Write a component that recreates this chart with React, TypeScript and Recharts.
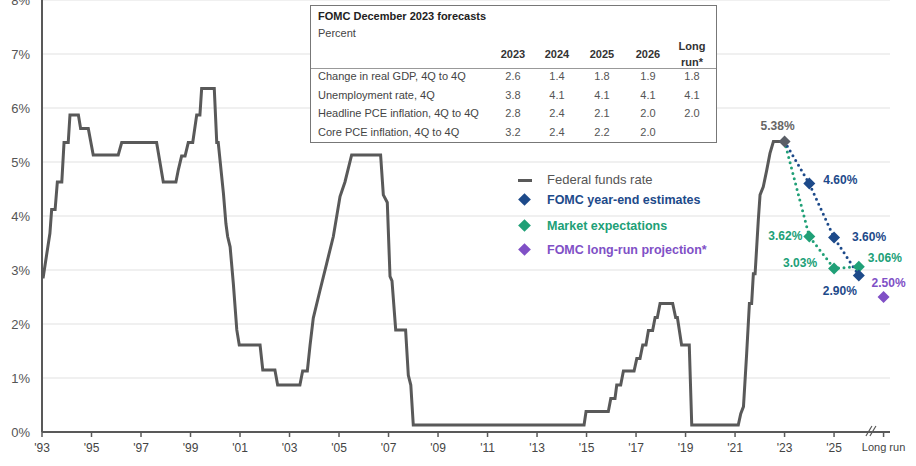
import { ComposedChart, Line, XAxis, YAxis, CartesianGrid, ReferenceDot } from "recharts";

// Federal funds rate, [chart year, percent]
const fedFunds: [number, number][] = [
  [1993.0, 2.87], [1993.05, 2.87], [1993.32, 3.68], [1993.39, 4.12], [1993.53, 4.12],
  [1993.62, 4.63], [1993.8, 4.63], [1993.89, 5.36], [1994.06, 5.36], [1994.13, 5.87],
  [1994.47, 5.87], [1994.56, 5.62], [1994.87, 5.62], [1995.07, 5.13], [1996.08, 5.13],
  [1996.22, 5.36], [1997.63, 5.36], [1997.9, 4.63], [1998.41, 4.63], [1998.51, 4.86],
  [1998.64, 5.11], [1998.78, 5.11], [1998.91, 5.36], [1999.09, 5.36], [1999.25, 5.87],
  [1999.38, 5.87], [1999.45, 6.36], [1999.96, 6.36], [2000.06, 5.36], [2000.12, 5.36],
  [2000.33, 4.42], [2000.43, 3.86], [2000.5, 3.62], [2000.6, 3.43], [2000.73, 2.75],
  [2000.87, 1.89], [2000.97, 1.61], [2001.81, 1.61], [2001.92, 1.15], [2002.41, 1.15],
  [2002.52, 0.87], [2003.42, 0.87], [2003.53, 1.13], [2003.72, 1.13], [2003.83, 1.61],
  [2003.96, 2.11], [2004.23, 2.62], [2004.5, 3.12], [2004.77, 3.62], [2005.04, 4.36],
  [2005.24, 4.63], [2005.51, 5.13], [2006.68, 5.13], [2006.79, 4.39], [2006.95, 4.25],
  [2007.06, 2.88], [2007.14, 2.8], [2007.29, 1.89], [2007.69, 1.89], [2007.8, 1.05],
  [2007.9, 0.87], [2008.0, 0.13], [2014.9, 0.13], [2014.98, 0.38], [2015.88, 0.38],
  [2015.98, 0.62], [2016.15, 0.62], [2016.22, 0.87], [2016.38, 0.87], [2016.49, 1.13],
  [2016.92, 1.13], [2017.03, 1.36], [2017.16, 1.36], [2017.27, 1.61], [2017.4, 1.61],
  [2017.5, 1.88], [2017.67, 1.88], [2017.77, 2.12], [2017.86, 2.12], [2017.97, 2.38],
  [2018.48, 2.38], [2018.6, 2.12], [2018.67, 2.12], [2018.84, 1.61], [2019.15, 1.61],
  [2019.25, 0.13], [2021.13, 0.13], [2021.23, 0.34], [2021.34, 0.47], [2021.47, 1.46],
  [2021.58, 2.38], [2021.67, 2.38], [2021.74, 2.93], [2021.81, 2.93], [2021.94, 3.93],
  [2022.01, 4.39], [2022.14, 4.54], [2022.28, 4.85], [2022.41, 5.16], [2022.55, 5.38],
  [2023.0, 5.38],
];

const projYears = [2023, 2024, 2025, 2026];
const fomcRates = [5.38, 4.6, 3.6, 2.9];
const marketRates = [5.38, 3.62, 3.03, 3.06];
const longRunYear = 2027;
const longRunRate = 2.5;

const xTicks = [1993, 1995, 1997, 1999, 2001, 2003, 2005, 2007, 2009, 2011, 2013, 2015, 2017, 2019, 2021, 2023, 2025, 2027];
const yTicks = [0, 1, 2, 3, 4, 5, 6, 7, 8];

// FOMC December 2023 table
const tableCols = ["2023", "2024", "2025", "2026"];
const tableRows = [
  "Change in real GDP, 4Q to 4Q",
  "Unemployment rate, 4Q",
  "Headline PCE inflation, 4Q to 4Q",
  "Core PCE inflation, 4Q to 4Q",
];
const tableValues = [
  ["2.6", "1.4", "1.8", "1.9", "1.8"],
  ["3.8", "4.1", "4.1", "4.1", "4.1"],
  ["2.8", "2.4", "2.1", "2.0", "2.0"],
  ["3.2", "2.4", "2.2", "2.0", ""],
];

const fedData = fedFunds.map(([x, rate]) => ({ x, rate }));
const fomcData = projYears.map((x, i) => ({ x, rate: fomcRates[i] }));
const marketData = projYears.map((x, i) => ({ x, rate: marketRates[i] }));
const longRunData = [{ x: longRunYear, rate: longRunRate }];

const FONT = "'Liberation Sans', Arial, sans-serif";
const GRAY = "#595959";
const BLUE = "#1d4a8a";
const GREEN = "#20a077";
const PURPLE = "#8050c6";
const DOT_GRAY = "#5a5e66";

type LabelPos = { dx: number; dy: number; anchor: "start" | "middle" | "end" } | null;
const fomcLabelPos: LabelPos[] = [
  { dx: -7, dy: -15, anchor: "middle" },
  { dx: 14, dy: -4, anchor: "start" },
  { dx: 18, dy: -1, anchor: "start" },
  { dx: -19, dy: 16, anchor: "middle" },
];
const marketLabelPos: LabelPos[] = [
  null,
  { dx: -7, dy: -1, anchor: "end" },
  { dx: -17, dy: -5, anchor: "end" },
  { dx: 9, dy: -9, anchor: "start" },
];
const longRunLabelPos: LabelPos[] = [{ dx: 5, dy: -14, anchor: "middle" }];

const diamond = (cx: number, cy: number, r = 6) =>
  `M${cx},${cy - r} L${cx + r},${cy} L${cx},${cy + r} L${cx - r},${cy} Z`;

function makeDot(color: string, positions: LabelPos[], skipFirst: boolean) {
  return (props: any) => {
    const { cx, cy, index, payload } = props;
    const pos = positions[index];
    if (skipFirst && index === 0) return <g key={`d-${index}`} />;
    const first = !skipFirst && index === 0 && positions.length > 1;
    const fill = first ? DOT_GRAY : color;
    return (
      <g key={`d-${index}`}>
        <path d={diamond(cx, cy)} fill={fill} />
        {pos && (
          <text
            x={cx + pos.dx}
            y={cy + pos.dy}
            textAnchor={pos.anchor}
            dominantBaseline="central"
            fontSize={12}
            fontWeight="bold"
            fontFamily={FONT}
            fill={first ? "#666" : color}
          >
            {payload.rate.toFixed(2)}%
          </text>
        )}
      </g>
    );
  };
}

const BreakMark = (props: any) => {
  const { cx, cy } = props;
  return (
    <g>
      <line x1={cx - 6} y1={cy + 4} x2={cx} y2={cy - 6} stroke={GRAY} strokeWidth={1.2} />
      <line x1={cx - 2} y1={cy + 4} x2={cx + 4} y2={cy - 6} stroke={GRAY} strokeWidth={1.2} />
    </g>
  );
};

const fmtYear = (v: number) => (v === longRunYear ? "Long run" : `'${String(v).slice(2)}`);

const XTick = (props: any) => {
  const { x, y, payload } = props;
  const isLong = payload.value === longRunYear;
  return (
    <text x={x} y={y} dy="0.71em" textAnchor="middle" fill="#444" fontSize={isLong ? 11 : 12} fontFamily={FONT}>
      {fmtYear(payload.value)}
    </text>
  );
};

const colX = [513, 557, 602, 648, 692];
const rowY = [76, 95, 113, 132];

function T({ x, y, children, bold, align = "left", size = 11, color = "#333" }: any) {
  const style: any = {
    position: "absolute",
    top: y - 7,
    height: 14,
    lineHeight: "14px",
    fontSize: size,
    fontWeight: bold ? "bold" : "normal",
    color,
    whiteSpace: "nowrap",
  };
  if (align === "center") {
    style.left = x - 40;
    style.width = 80;
    style.textAlign = "center";
  } else {
    style.left = x;
  }
  return <div style={style}>{children}</div>;
}

export default function App() {
  return (
    <div style={{ position: "absolute", left: 0, top: 0, width: 916, height: 466, background: "#fff", fontFamily: FONT, overflow: "hidden" }}>
      <ComposedChart width={916} height={466} margin={{ top: 0, right: 26, bottom: 8, left: 0 }}>
        <CartesianGrid vertical={false} stroke="#e2e2e2" strokeWidth={1.2} />
        <XAxis
          dataKey="x"
          type="number"
          domain={[1993, 2027.26]}
          ticks={xTicks}
          height={26}
          tickSize={5}
          tickMargin={6}
          axisLine={{ stroke: GRAY, strokeWidth: 2 }}
          tickLine={{ stroke: GRAY, strokeWidth: 1.5 }}
          tick={<XTick />}
          interval={0}
        />
        <YAxis
          type="number"
          domain={[0, 8]}
          ticks={yTicks}
          tickFormatter={(v: number) => `${v}%`}
          width={42}
          tickSize={0}
          tickMargin={12}
          axisLine={{ stroke: GRAY, strokeWidth: 2 }}
          tickLine={false}
          tick={{ fill: "#555", fontSize: 13, fontFamily: FONT }}
          interval={0}
        />
        <Line data={fedData} dataKey="rate" type="linear" stroke={GRAY} strokeWidth={3} dot={false} isAnimationActive={false} />
        <Line
          data={marketData}
          dataKey="rate"
          type="linear"
          stroke={GREEN}
          strokeWidth={3}
          strokeDasharray="0 5.5"
          strokeLinecap="round"
          dot={makeDot(GREEN, marketLabelPos, true)}
          isAnimationActive={false}
        />
        <Line
          data={fomcData}
          dataKey="rate"
          type="linear"
          stroke={BLUE}
          strokeWidth={3}
          strokeDasharray="0 5.5"
          strokeLinecap="round"
          dot={makeDot(BLUE, fomcLabelPos, false)}
          isAnimationActive={false}
        />
        <Line
          data={longRunData}
          dataKey="rate"
          stroke="none"
          dot={makeDot(PURPLE, longRunLabelPos, false)}
          isAnimationActive={false}
        />
        <ReferenceDot x={2026.53} y={0} shape={BreakMark} ifOverflow="visible" />
      </ComposedChart>

      {/* legend */}
      <div style={{ position: "absolute", left: 518, top: 179, width: 14, height: 3, background: GRAY }} />
      <T x={547} y={180} size={13} color="#555">Federal funds rate</T>
      {[
        { y: 200, color: BLUE, label: "FOMC year-end estimates" },
        { y: 226, color: GREEN, label: "Market expectations" },
        { y: 250, color: PURPLE, label: "FOMC long-run projection*" },
      ].map((l) => (
        <div key={l.label}>
          <div style={{ position: "absolute", left: 520, top: l.y - 5, width: 9, height: 9, background: l.color, transform: "rotate(45deg)" }} />
          <T x={547} y={l.y} size={12.5} bold color={l.color}>{l.label}</T>
        </div>
      ))}

      {/* forecast table */}
      <div style={{ position: "absolute", left: 310, top: 5, width: 405, height: 136, border: "1.5px solid #777", background: "#fff" }} />
      <T x={318} y={16} bold color="#222">FOMC December 2023 forecasts</T>
      <T x={318} y={33} color="#444">Percent</T>
      {tableCols.map((c, i) => (
        <T key={c} x={colX[i]} y={54} align="center" bold color="#333">{c}</T>
      ))}
      <T x={colX[4]} y={46} align="center" bold color="#333">Long</T>
      <T x={colX[4]} y={62} align="center" bold color="#333">run*</T>
      <div style={{ position: "absolute", left: 311, top: 68, width: 405, height: 1, background: "#999" }} />
      {tableRows.map((r, ri) => (
        <div key={r}>
          <T x={318} y={rowY[ri]} color="#444">{r}</T>
          {tableValues[ri].map((v, ci) => (
            <T key={ci} x={colX[ci]} y={rowY[ri]} align="center" color="#555">{v}</T>
          ))}
        </div>
      ))}
    </div>
  );
}
